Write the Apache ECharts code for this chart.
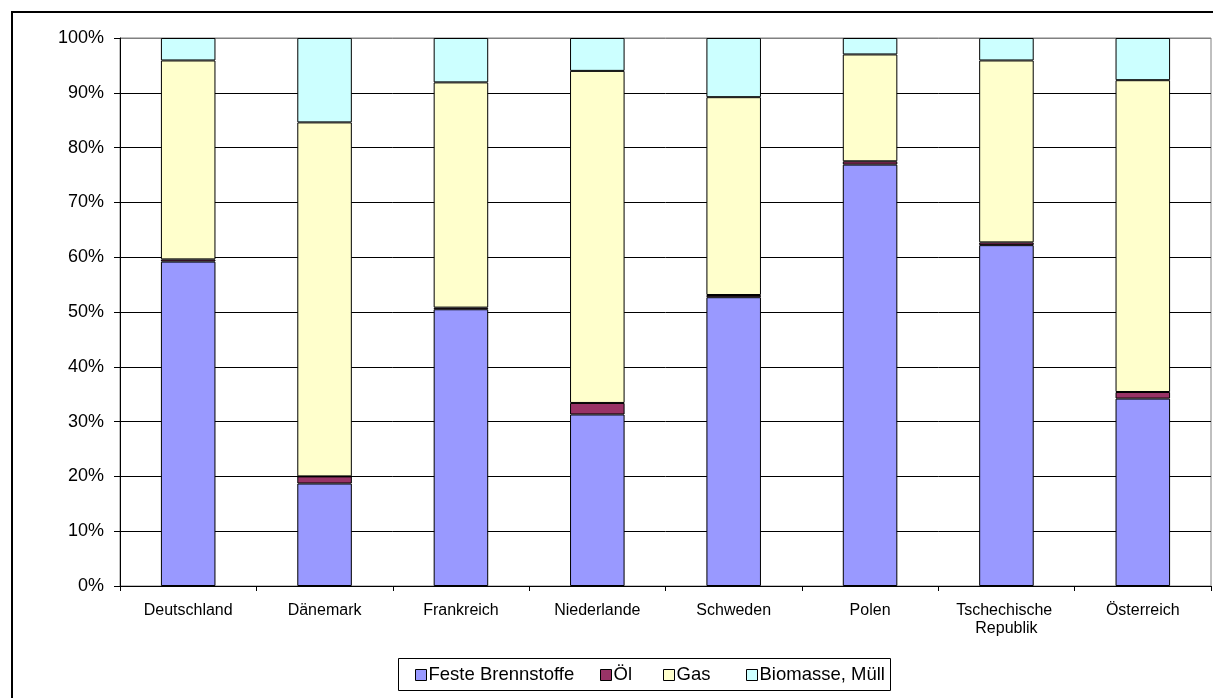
<!DOCTYPE html>
<html>
<head>
<meta charset="utf-8">
<script src="https://cdn.jsdelivr.net/npm/echarts@6/dist/echarts.min.js"></script>
<style>html,body{margin:0;padding:0;background:#fff}#c{width:1216px;height:698px}</style>
</head>
<body>
<div id="c"></div>
<script>
const categories = ['Deutschland', 'Dänemark', 'Frankreich', 'Niederlande', 'Schweden', 'Polen', 'Tschechische Republik', 'Österreich'];
const festeBrennstoffe = [59.2, 18.7, 50.5, 31.3, 52.7, 76.9, 62.2, 34.2];
const oel = [0.4, 1.3, 0.3, 2.1, 0.4, 0.6, 0.5, 1.2];
const gas = [36.3, 64.6, 41.1, 60.6, 36.1, 19.5, 33.2, 56.9];
const biomasse = [4.1, 15.4, 8.1, 6.0, 10.8, 3.0, 4.1, 7.7];
const seriesNames = ['Feste Brennstoffe', 'Öl', 'Gas', 'Biomasse, Müll'];
const seriesColors = ['#9999FF', '#993366', '#FFFFCC', '#CCFFFF'];
const seriesData = [festeBrennstoffe, oel, gas, biomasse];

const FONT = "'Liberation Sans', Arial, sans-serif";
const chart = echarts.init(document.getElementById('c'), null, {renderer: 'canvas'});

const splitColors = [];
for (let i = 0; i < 10; i++) splitColors.push('#000');
splitColors.push('#808080');

const legendLefts = [415, 600, 663, 746];

chart.setOption({
  animation: false,
  backgroundColor: '#fff',
  textStyle: {fontFamily: FONT, color: '#000'},
  graphic: [
    {type: 'polyline', shape: {points: [[12, 720], [12, 12], [1213, 12]]}, style: {fill: 'none', stroke: '#000', lineWidth: 2}, silent: true, z: 100},
    {type: 'rect', shape: {x: 398.5, y: 658.5, width: 492, height: 32}, style: {fill: 'none', stroke: '#000', lineWidth: 1}, silent: true}
  ],
  grid: {left: 120, right: 5, top: 38, bottom: 112, show: true, borderColor: '#808080', borderWidth: 1, backgroundColor: 'transparent'},
  legend: seriesNames.map((n, i) => ({
    data: [n],
    left: legendLefts[i],
    top: 665,
    itemWidth: 11,
    itemHeight: 11,
    itemGap: 0,
    padding: 0,
    icon: 'rect',
    selectedMode: false,
    itemStyle: {borderColor: '#000', borderWidth: 1},
    textStyle: {fontFamily: FONT, fontSize: 18.5, color: '#000', lineHeight: 20, padding: [0, 0, 0, -3]}
  })),
  xAxis: {
    type: 'category',
    data: categories,
    axisLine: {lineStyle: {color: '#000', width: 1}},
    axisTick: {show: true, inside: false, length: 5, lineStyle: {color: '#000'}},
    axisLabel: {
      fontFamily: FONT, fontSize: 16, color: '#000', margin: 16, lineHeight: 18,
      interval: 0, width: 125, overflow: 'break'
    },
    splitLine: {show: false}
  },
  yAxis: {
    type: 'value',
    min: 0, max: 100, interval: 10,
    axisLine: {show: true, lineStyle: {color: '#000', width: 1}},
    axisTick: {show: true, length: 6, lineStyle: {color: '#000'}},
    axisLabel: {fontFamily: FONT, fontSize: 18, color: '#000', margin: 16, formatter: '{value}%'},
    splitLine: {show: true, lineStyle: {color: splitColors, width: 1}}
  },
  series: seriesNames.map((n, i) => ({
    name: n,
    type: 'bar',
    stack: 'total',
    data: seriesData[i],
    barCategoryGap: '60%',
    itemStyle: {color: seriesColors[i], borderColor: '#000', borderWidth: 1},
    emphasis: {disabled: true}
  }))
});
</script>
</body>
</html>
